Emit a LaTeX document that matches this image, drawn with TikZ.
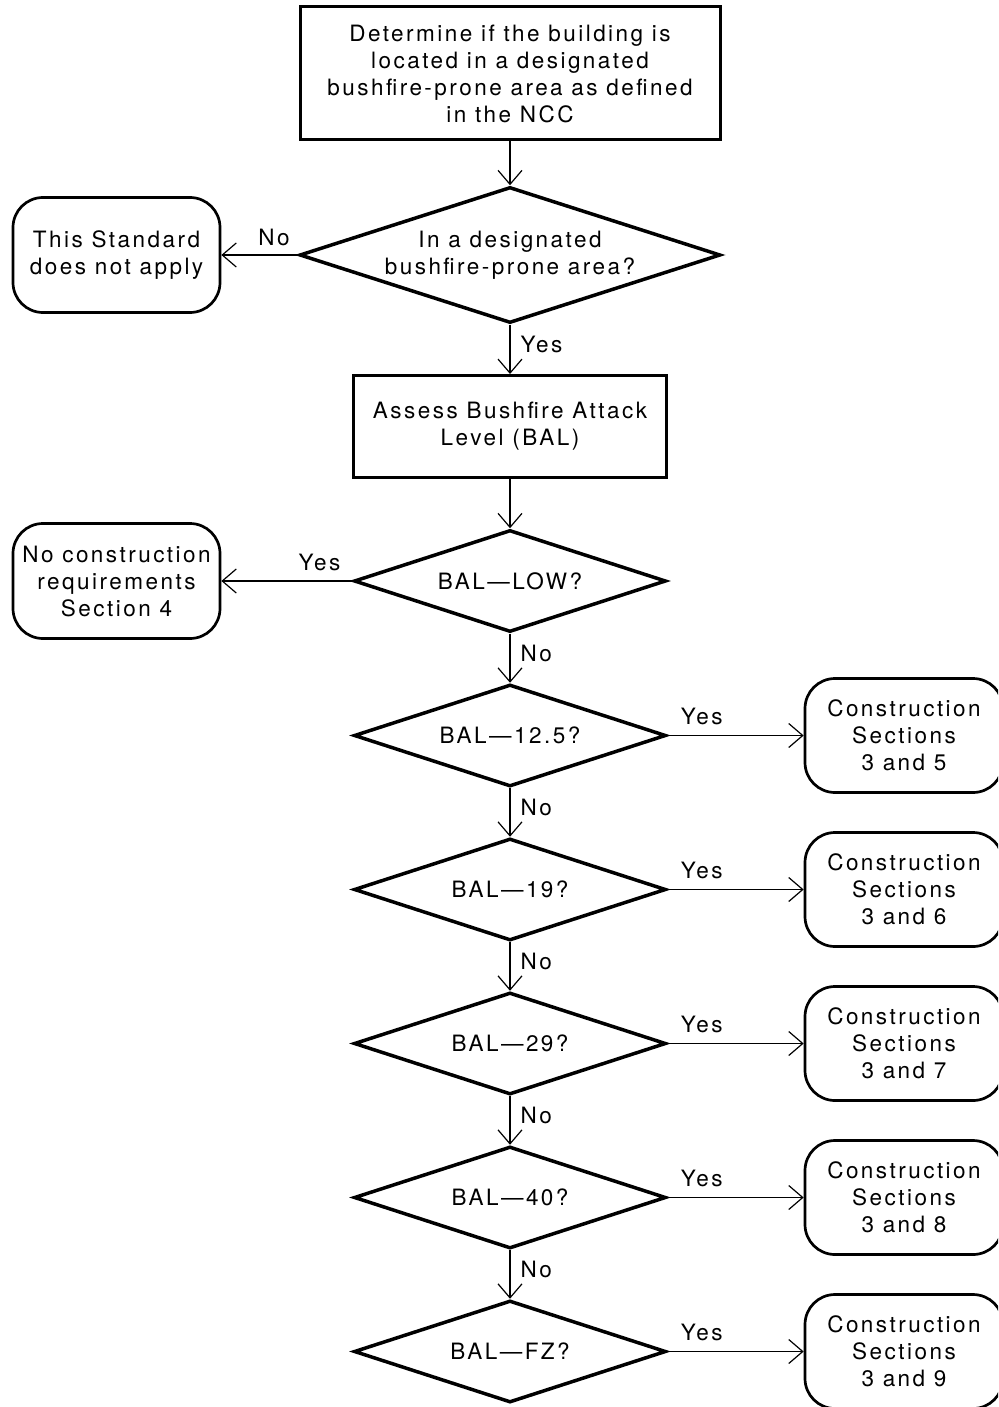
\documentclass[tikz,border=0pt]{standalone}
\usepackage{fontspec}
\setmainfont{TeX Gyre Heros}[LetterSpace=11]
\usetikzlibrary{shapes.geometric,arrows.meta}
\begin{document}
\begin{tikzpicture}[x=1pt,y=-1pt,
  font=\fontsize{22.5}{27}\selectfont,
  box/.style={draw, line width=3pt, align=center, inner sep=0pt},
  rbox/.style={draw, line width=2.7pt, rounded corners=30pt, align=center, inner sep=0pt},
  lbox/.style={rbox, minimum width=207pt, minimum height=115pt},
  rgtbox/.style={rbox, minimum width=198pt, minimum height=114pt},
  dec/.style={draw, diamond, line width=3.5pt, align=center, inner sep=0pt},
  smalldec/.style={dec, minimum width=312pt, minimum height=102pt, shape aspect=3.06},
  arr/.style={line width=1.2pt, -{Straight Barb[length=14pt,width=24pt]}},
  lbl/.style={inner sep=0pt}]
\useasboundingbox (0,0) rectangle (998,1407);
\clip (0,0) rectangle (998,1407);

\node[box, minimum width=420pt, minimum height=133pt] (start) at (510,73.5)
  {Determine if the building is\\located in a designated\\bushfire-prone area as defined\\in the NCC};
\node[dec, minimum width=421pt, minimum height=136pt, shape aspect=3.1] (d1) at (510,255)
  {In a designated\\bushfire-prone area?};
\node[lbox] (r1) at (116.5,255) {This Standard\\does not apply};
\node[box, minimum width=313pt, minimum height=102pt] (assess) at (510,426.5)
  {Assess Bushfire Attack\\Level (BAL)};
\node[smalldec] (d2) at (510,581) {BAL—LOW?};
\node[lbox] (r2) at (116.5,581) {No construction\\requirements\\Section 4};

\node[smalldec] (d3) at (510,735.5) {BAL—12.5?};
\node[smalldec] (d4) at (510,889.5) {BAL—19?};
\node[smalldec] (d5) at (510,1043.5) {BAL—29?};
\node[smalldec] (d6) at (510,1197.5) {BAL—40?};
\node[smalldec] (d7) at (510,1351.5) {BAL—FZ?};

\node[rgtbox] (c3) at (904,735.5) {Construction\\Sections\\3 and 5};
\node[rgtbox] (c4) at (904,889.5) {Construction\\Sections\\3 and 6};
\node[rgtbox] (c5) at (904,1043.5) {Construction\\Sections\\3 and 7};
\node[rgtbox] (c6) at (904,1197.5) {Construction\\Sections\\3 and 8};
\node[rgtbox] (c7) at (904,1351.5) {Construction\\Sections\\3 and 9};

\draw[arr] (start) -- (d1);
\draw[arr] (d1) -- node[lbl, pos=0.31, above=9pt] (lno1) {No} (r1);
\draw[arr] (d1) -- node[lbl, pos=0.4, right=10pt] (lyes1) {Yes} (assess);
\draw[arr] (assess) -- (d2);
\draw[arr] (d2) -- node[lbl, pos=0.25, above=10pt] (lyes2) {Yes} (r2);
\draw[arr] (d2) -- node[lbl, pos=0.4, right=10pt] (lno2) {No} (d3);
\draw[arr] (d3) -- node[lbl, pos=0.4, right=10pt] (lno3) {No} (d4);
\draw[arr] (d4) -- node[lbl, pos=0.4, right=10pt] (lno4) {No} (d5);
\draw[arr] (d5) -- node[lbl, pos=0.4, right=10pt] (lno5) {No} (d6);
\draw[arr] (d6) -- node[lbl, pos=0.4, right=10pt] (lno6) {No} (d7);
\draw[arr] (d3) -- node[lbl, pos=0.25, above=10pt] (lyes3) {Yes} (c3);
\draw[arr] (d4) -- node[lbl, pos=0.25, above=10pt] (lyes4) {Yes} (c4);
\draw[arr] (d5) -- node[lbl, pos=0.25, above=10pt] (lyes5) {Yes} (c5);
\draw[arr] (d6) -- node[lbl, pos=0.25, above=10pt] (lyes6) {Yes} (c6);
\draw[arr] (d7) -- node[lbl, pos=0.25, above=10pt] (lyes7) {Yes} (c7);
\end{tikzpicture}
\end{document}
